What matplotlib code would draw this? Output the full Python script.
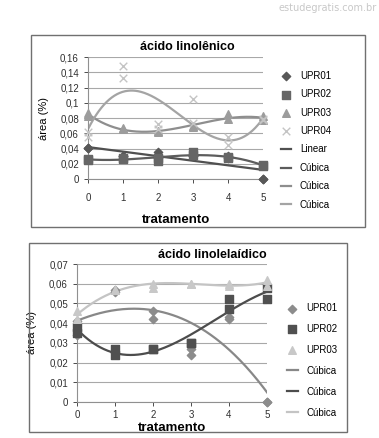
import numpy as np
import matplotlib.pyplot as plt
from matplotlib.patches import Rectangle

plt.rcParams['font.family'] = ['Liberation Sans', 'DejaVu Sans']

W, H = 379, 438

# --- ácido linolênico (two replicates per treatment) ---
trat = [0, 0, 1, 1, 2, 2, 3, 3, 4, 4, 5, 5]
lin_upr01 = [0.041, 0.041, 0.030, 0.030, 0.035, 0.028, 0.030, 0.030, 0.030, 0.028, 0.000, 0.000]
lin_upr02 = [0.026, 0.025, 0.026, 0.028, 0.024, 0.028, 0.035, 0.032, 0.027, 0.029, 0.017, 0.019]
lin_upr03 = [0.086, 0.083, 0.067, 0.066, 0.063, 0.061, 0.070, 0.068, 0.085, 0.079, 0.082, 0.077]
lin_upr04 = [0.062, 0.055, 0.148, 0.133, 0.072, 0.066, 0.105, 0.073, 0.055, 0.045, 0.077, 0.079]

# --- ácido linolelaídico ---
lel_upr01 = [0.034, 0.041, 0.057, 0.056, 0.046, 0.042, 0.024, 0.027, 0.043, 0.042, 0.000, 0.000]
lel_upr02 = [0.035, 0.038, 0.024, 0.027, 0.027, 0.027, 0.030, 0.030, 0.052, 0.047, 0.052, 0.058]
lel_upr03 = [0.046, 0.042, 0.057, 0.057, 0.060, 0.058, 0.060, 0.060, 0.060, 0.059, 0.062, 0.059]

xs = np.linspace(0, 5, 200)


def trend(x, y, deg):
    return np.polyval(np.polyfit(x, y, deg), xs)


def px_axes(fig, x0, x1, y0, y1):
    # pixel box -> figure fraction
    return fig.add_axes([x0 / W, 1 - y1 / H, (x1 - x0) / W, (y1 - y0) / H])


def style_axes(ax, ymax, ystep, fmt):
    ax.set_xlim(0, 5)
    ax.set_ylim(0, ymax)
    ax.set_xticks(range(6))
    ticks = np.arange(0, ymax + ystep / 2, ystep)
    ax.set_yticks(ticks)
    ax.set_yticklabels([fmt(t) for t in ticks])
    ax.grid(axis='y', color='#a8a8a8', lw=0.8)
    ax.set_axisbelow(True)
    for s in ['top', 'right']:
        ax.spines[s].set_visible(False)
    ax.spines['left'].set_color('#909090')
    ax.spines['bottom'].set_color('#909090')
    ax.tick_params(labelsize=7, colors='#303030', length=3, width=0.6)


def fmt_lin(t):
    s = ('%.2f' % t).rstrip('0').rstrip('.')
    return s.replace('.', ',')


fig = plt.figure(figsize=(W / 100, H / 100), dpi=100)

# panel frames
fig.patches.append(Rectangle((31 / W, 1 - 227 / H), (365 - 31) / W, (227 - 35) / H,
                             transform=fig.transFigure, fill=False, ec='#707070', lw=1))
fig.patches.append(Rectangle((29 / W, 1 - 432 / H), (347 - 29) / W, (432 - 243) / H,
                             transform=fig.transFigure, fill=False, ec='#707070', lw=1))
fig.text(377 / W, 1 - 8 / H, 'estudegratis.com.br', ha='right', va='center',
         fontsize=7, color='#c8c8c8', family='DejaVu Sans')

# ---------- panel 1 ----------
ax1 = px_axes(fig, 88, 263, 57, 179)
style_axes(ax1, 0.16, 0.02, fmt_lin)
ax1.tick_params(axis='x', pad=7)
c1, c2, c3, c4 = '#585858', '#666666', '#9c9c9c', '#c4c4c4'
ax1.scatter(trat, lin_upr01, marker='D', s=18, color=c1, label='UPR01', clip_on=False, zorder=3)
ax1.scatter(trat, lin_upr02, marker='s', s=30, color=c2, label='UPR02', clip_on=False, zorder=3)
ax1.scatter(trat, lin_upr03, marker='^', s=30, color=c3, label='UPR03', clip_on=False, zorder=3)
ax1.scatter(trat, lin_upr04, marker='x', s=30, color=c4, lw=1, label='UPR04', clip_on=False, zorder=3)
ax1.plot(xs, trend(trat, lin_upr01, 1), color='#505050', lw=1.6, label='Linear')
ax1.plot(xs, trend(trat, lin_upr02, 3), color='#5c5c5c', lw=1.6, label='Cúbica')
ax1.plot(xs, trend(trat, lin_upr03, 3), color='#8e8e8e', lw=1.6, label='Cúbica')
ax1.plot(xs, trend(trat, lin_upr04, 3), color='#a4a4a4', lw=1.6, label='Cúbica')
ax1.set_title('ácido linolênico', fontsize=9, fontweight='bold', pad=5, x=0.57)
ax1.set_ylabel('área (%)', fontsize=8, labelpad=8)
ax1.set_xlabel('tratamento', fontsize=9.5, fontweight='bold', labelpad=8)
ax1.legend(loc='upper left', bbox_to_anchor=(1.05, 0.96), frameon=False, fontsize=7,
           labelspacing=0.87, handlelength=1.1, handletextpad=0.9, scatterpoints=1)

# ---------- panel 2 ----------
ax2 = px_axes(fig, 77, 267, 264, 402)
style_axes(ax2, 0.07, 0.01, fmt_lin)
ax2.tick_params(axis='x', pad=3)
d1, d2, d3 = '#8c8c8c', '#505050', '#c8c8c8'
ax2.scatter(trat, lel_upr01, marker='D', s=18, color=d1, label='UPR01', clip_on=False, zorder=3)
ax2.scatter(trat, lel_upr02, marker='s', s=40, color=d2, label='UPR02', clip_on=False, zorder=3)
ax2.scatter(trat, lel_upr03, marker='^', s=30, color=d3, label='UPR03', clip_on=False, zorder=3)
ax2.plot(xs, trend(trat, lel_upr01, 3), color='#888888', lw=1.6, label='Cúbica')
ax2.plot(xs, trend(trat, lel_upr02, 3), color='#4c4c4c', lw=1.6, label='Cúbica')
ax2.plot(xs, trend(trat, lel_upr03, 3), color='#c4c4c4', lw=1.6, label='Cúbica')
ax2.set_title('ácido linolelaídico', fontsize=9, fontweight='bold', pad=4, x=0.71)
ax2.set_ylabel('área (%)', fontsize=8, labelpad=9)
ax2.set_xlabel('tratamento', fontsize=9.5, fontweight='bold', labelpad=1)
ax2.legend(loc='upper left', bbox_to_anchor=(1.06, 0.78), frameon=False, fontsize=7,
           labelspacing=1.12, handlelength=1.1, handletextpad=0.9, scatterpoints=1)

fig.savefig('out.png', dpi=100)
